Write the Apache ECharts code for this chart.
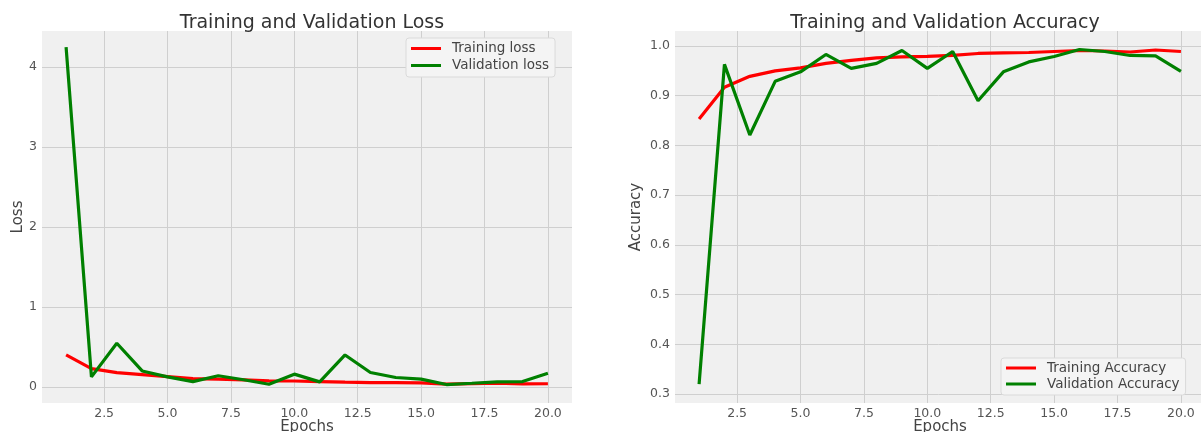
<!DOCTYPE html>
<html>
<head>
<meta charset="utf-8">
<script src="https://cdn.jsdelivr.net/npm/echarts@6/dist/echarts.min.js"></script>
<style>
  html, body { margin: 0; padding: 0; background: #fff; }
  #chart { width: 1201px; height: 432px; }
</style>
</head>
<body>
<div id="chart"></div>
<script>
// epochs
const epochs = [1, 2, 3, 4, 5, 6, 7, 8, 9, 10, 11, 12, 13, 14, 15, 16, 17, 18, 19, 20];

// loss curves
const trainLoss = [0.40, 0.23, 0.18, 0.155, 0.13, 0.105, 0.097, 0.088, 0.076, 0.074, 0.067, 0.06, 0.055, 0.055, 0.05, 0.034, 0.042, 0.046, 0.038, 0.04];
const valLoss = [4.25, 0.126, 0.546, 0.20, 0.126, 0.067, 0.14, 0.09, 0.034, 0.16, 0.063, 0.40, 0.18, 0.118, 0.097, 0.03, 0.046, 0.063, 0.067, 0.17];

// accuracy curves
const trainAcc = [0.853, 0.917, 0.939, 0.95, 0.956, 0.965, 0.971, 0.976, 0.978, 0.979, 0.981, 0.985, 0.986, 0.987, 0.989, 0.991, 0.99, 0.988, 0.992, 0.989];
const valAcc = [0.32, 0.963, 0.821, 0.929, 0.948, 0.983, 0.955, 0.965, 0.991, 0.955, 0.989, 0.89, 0.948, 0.968, 0.979, 0.993, 0.989, 0.981, 0.98, 0.949];

// tick labels
const epochTicks = [2.5, 5, 7.5, 10, 12.5, 15, 17.5, 20];
const lossTicks = [0, 1, 2, 3, 4];
const accTicks = [0.3, 0.4, 0.5, 0.6, 0.7, 0.8, 0.9, 1.0];

const FONT = 'DejaVu Sans';
const pair = (xs, ys) => xs.map((x, i) => [x, ys[i]]);

const chart = echarts.init(document.getElementById('chart'));

function xAxisFor(gridIndex) {
    return {
        type: 'value', gridIndex: gridIndex, min: 0.05, max: 20.95,
        name: 'Epochs', nameLocation: 'middle', nameGap: 17, nameMoveOverlap: false,
        nameTextStyle: { fontFamily: FONT, fontSize: 15, color: '#444' },
        axisLine: { show: false },
        axisTick: { show: false, customValues: epochTicks },
        axisLabel: {
            customValues: epochTicks, margin: 4,
            fontFamily: FONT, fontSize: 12.5, color: '#555',
            formatter: v => v.toFixed(1)
        },
        splitLine: { show: true, lineStyle: { color: '#cfcfcf', width: 1 } }
    };
}

function yAxisFor(gridIndex, name, min, max, ticks, fmt, gap) {
    return {
        type: 'value', gridIndex: gridIndex, min: min, max: max,
        name: name, nameLocation: 'middle', nameGap: gap, nameRotate: 90, nameMoveOverlap: false,
        nameTextStyle: { fontFamily: FONT, fontSize: 15, color: '#444' },
        axisLine: { show: false },
        axisTick: { show: false, customValues: ticks },
        axisLabel: {
            customValues: ticks, margin: 5,
            fontFamily: FONT, fontSize: 12.5, color: '#555',
            formatter: fmt
        },
        splitLine: { show: true, lineStyle: { color: '#cfcfcf', width: 1 } }
    };
}

function legendFor(left, top, names, lh) {
    return {
        orient: 'vertical', left: left, top: top,
        data: names, icon: 'rect', itemWidth: 30, itemHeight: 3, itemGap: 0,
        padding: [2, 6, 3, 5],
        backgroundColor: '#f4f4f4', borderColor: '#dadada', borderWidth: 1, borderRadius: 3,
        textStyle: { fontFamily: FONT, fontSize: 13.5, color: '#444', lineHeight: lh, padding: [0, 0, 0, 6] }
    };
}

function lineSeries(name, data, color, xi) {
    return {
        name: name, type: 'line', xAxisIndex: xi, yAxisIndex: xi,
        data: data, showSymbol: false, symbol: 'none',
        lineStyle: { color: color, width: 3.2 }, itemStyle: { color: color },
        animation: false
    };
}

chart.setOption({
    backgroundColor: '#ffffff',
    animation: false,
    title: [
        { text: 'Training and Validation Loss', left: 307, top: 9, textAlign: 'center',
          textStyle: { fontFamily: FONT, fontSize: 19, fontWeight: 'normal', color: '#333' } },
        { text: 'Training and Validation Accuracy', left: 940, top: 9, textAlign: 'center',
          textStyle: { fontFamily: FONT, fontSize: 19, fontWeight: 'normal', color: '#333' } }
    ],
    grid: [
        { left: 42, top: 31, width: 530, height: 372, show: true, backgroundColor: '#f0f0f0', borderWidth: 0,
          outerBoundsMode: 'none', containLabel: false },
        { left: 675, top: 31, width: 530, height: 372, show: true, backgroundColor: '#f0f0f0', borderWidth: 0,
          outerBoundsMode: 'none', containLabel: false }
    ],
    xAxis: [xAxisFor(0), xAxisFor(1)],
    yAxis: [
        yAxisFor(0, 'Loss', -0.201, 4.453, lossTicks, v => String(v), 16),
        yAxisFor(1, 'Accuracy', 0.2819, 1.0302, accTicks, v => v.toFixed(1), 31)
    ],
    legend: [
        legendFor(406, 38, ['Training loss', 'Validation loss'], 17),
        legendFor(1001, 358, ['Training Accuracy', 'Validation Accuracy'], 16)
    ],
    series: [
        lineSeries('Training loss', pair(epochs, trainLoss), '#ff0000', 0),
        lineSeries('Validation loss', pair(epochs, valLoss), '#008000', 0),
        lineSeries('Training Accuracy', pair(epochs, trainAcc), '#ff0000', 1),
        lineSeries('Validation Accuracy', pair(epochs, valAcc), '#008000', 1)
    ]
});
</script>
</body>
</html>
